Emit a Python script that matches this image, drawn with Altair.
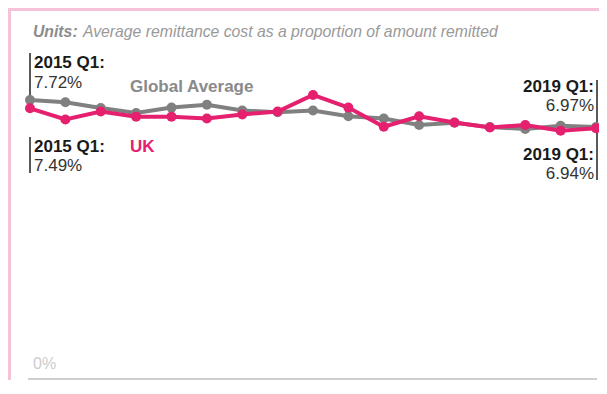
import altair as alt
import pandas as pd

quarters = ["2015 Q1", "2015 Q2", "2015 Q3", "2015 Q4",
            "2016 Q1", "2016 Q2", "2016 Q3", "2016 Q4",
            "2017 Q1", "2017 Q2", "2017 Q3", "2017 Q4",
            "2018 Q1", "2018 Q2", "2018 Q3", "2018 Q4",
            "2019 Q1"]
global_avg = [7.72, 7.66, 7.50, 7.36, 7.51, 7.59, 7.43, 7.38, 7.43,
              7.27, 7.21, 7.03, 7.09, 6.97, 6.92, 7.01, 6.97]
uk = [7.49, 7.18, 7.40, 7.26, 7.26, 7.21, 7.32, 7.40, 7.86,
      7.51, 6.98, 7.27, 7.10, 6.96, 7.03, 6.87, 6.94]

GRAY = "#808080"
PINK = "#E5206F"
BORDER = "#F5C2D9"
FONT = "Liberation Sans"

rows = []
for i, q in enumerate(quarters):
    rows.append({"idx": i, "quarter": q, "series": "Global Average", "value": global_avg[i]})
    rows.append({"idx": i, "quarter": q, "series": "UK", "value": uk[i]})
df = pd.DataFrame(rows)

W, H = 588, 369
xs = alt.Scale(domain=[-0.5371, 16.0848], nice=False, zero=False)
ys = alt.Scale(domain=[-0.0277, 10.183], nice=False, zero=False)

def series_layers(name, color):
    base = alt.Chart(df).transform_filter(alt.datum.series == name)
    line = base.mark_line(color=color, strokeWidth=4).encode(
        x=alt.X("idx:Q", scale=xs, axis=None),
        y=alt.Y("value:Q", scale=ys, axis=None),
        order="idx:Q")
    pts = base.mark_circle(color=color, size=100, opacity=1).encode(
        x=alt.X("idx:Q", scale=xs, axis=None),
        y=alt.Y("value:Q", scale=ys, axis=None))
    return [line, pts]

# pink frame strips (top and left), outside the plot area
top_strip = alt.Chart(pd.DataFrame({"a": [0]})).mark_rect(color=BORDER).encode(
    x=alt.value(-3), x2=alt.value(W), y=alt.value(-3), y2=alt.value(0))
left_strip = alt.Chart(pd.DataFrame({"a": [0]})).mark_rect(color=BORDER).encode(
    x=alt.value(-3), x2=alt.value(0), y=alt.value(-3), y2=alt.value(H))

baseline = alt.Chart(pd.DataFrame({"v": [0]})).mark_rule(color="#cfcfcf", strokeWidth=2).encode(
    y=alt.Y("v:Q", scale=ys, axis=None), x=alt.value(17), x2=alt.value(586))

rules_df = pd.DataFrame({"x": [19, 19, 586], "y1": [42, 126, 69], "y2": [89, 162, 169]})
rules = alt.Chart(rules_df).mark_rule(color="#222222", strokeWidth=1.5).encode(
    x=alt.X("x:Q", scale=None), y=alt.Y("y1:Q", scale=None), y2="y2:Q")

def texts(items, **kw):
    d = pd.DataFrame(items, columns=["t", "x", "y"])
    return alt.Chart(d).mark_text(font=FONT, baseline="alphabetic", **kw).encode(
        x=alt.X("x:Q", scale=None), y=alt.Y("y:Q", scale=None), text="t:N")

first_g = f"{global_avg[0]:.2f}%"
first_u = f"{uk[0]:.2f}%"
last_g = f"{global_avg[-1]:.2f}%"
last_u = f"{uk[-1]:.2f}%"

FS = 17
t_units_b = texts([["Units:", 22, 26]], align="left", fontSize=15.75, fontWeight="bold",
                  fontStyle="italic", color="#8c8c8c")
t_units = texts([["Average remittance cost as a proportion of amount remitted", 72, 26]],
                align="left", fontSize=15.75, fontStyle="italic", color="#999999")
t_left_b = texts([[quarters[0] + ":", 23, 56.5], [quarters[0] + ":", 23, 140.5]],
                 align="left", fontSize=FS, fontWeight="bold", color="#1a1a1a")
t_left_v = texts([[first_g, 23, 77], [first_u, 23, 159.5]],
                 align="left", fontSize=FS, color="#333333")
t_right_b = texts([[quarters[-1] + ":", 583, 81], [quarters[-1] + ":", 583, 149]],
                  align="right", fontSize=FS, fontWeight="bold", color="#1a1a1a")
t_right_v = texts([[last_g, 583, 99.5], [last_u, 583, 167.5]],
                  align="right", fontSize=FS, color="#333333")
t_global = texts([["Global Average", 119, 80.5]], align="left", fontSize=FS,
                 fontWeight="bold", color="#8a8a8a")
t_uk = texts([["UK", 119, 140.7]], align="left", fontSize=FS, fontWeight="bold", color=PINK)
t_zero = texts([["0%", 22, 358]], align="left", fontSize=16, color="#cccccc")

layers = [top_strip, left_strip, baseline, rules] + series_layers("Global Average", GRAY) + series_layers("UK", PINK) + [
    t_units_b, t_units, t_left_b, t_left_v, t_right_b, t_right_v, t_global, t_uk, t_zero]

chart = alt.layer(*layers).properties(
    width=W, height=H,
    background="white",
    padding={"left": 3, "top": 3, "right": 0, "bottom": 0},
    autosize=alt.AutoSizeParams(type="none"),
).configure_view(fill="white", stroke="transparent", strokeWidth=0, strokeOpacity=0)

chart.save("out.html", embed_options={"renderer": "svg", "actions": False})
